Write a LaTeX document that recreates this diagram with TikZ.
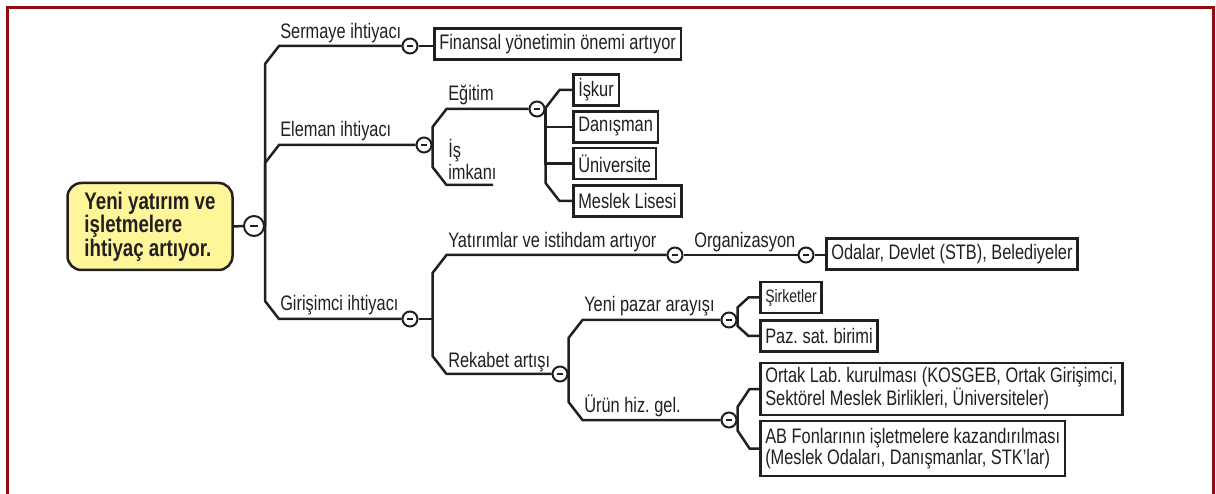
\documentclass[tikz,border=0pt]{standalone}
\usepackage{fontspec}
\setmainfont{Liberation Sans}[FakeStretch=0.78]
\usetikzlibrary{calc,positioning}
\definecolor{framered}{RGB}{145,10,20}
\definecolor{rootyellow}{RGB}{255,246,153}
\definecolor{ink}{RGB}{35,31,32}
\newcommand{\mapsize}{\fontsize{21pt}{21.5pt}\selectfont}
\frenchspacing

\begin{document}
\begin{tikzpicture}[x=1pt,y=-1pt,line width=2.5pt,ink]
	\tikzset{
		knob/.style={circle,draw,line width=2pt,fill=white,minimum size=15pt,inner sep=0pt,
			path picture={\draw[line width=2pt] ([xshift=-3pt]path picture bounding box.center) -- ([xshift=3pt]path picture bounding box.center);}},
		bigknob/.style={knob,minimum size=20pt,
			path picture={\draw[line width=2.5pt] ([xshift=-4pt]path picture bounding box.center) -- ([xshift=4pt]path picture bounding box.center);}},
		box/.style={draw,line width=2.5pt,fill=white,anchor=west,align=left,inner xsep=5pt,inner ysep=2pt,minimum height=31pt,font=\mapsize},
		lbl/.style={anchor=base west,inner sep=0pt,font=\mapsize},
		elbow/.style 2 args={to path={let \p1=(\tikztostart), \p2=(\tikztotarget) in
			-- (\x1,{\y2+#2*sign(\y1-\y2)}) -- ({\x1+#1},\y2) -- (\tikztotarget)}}
	}
	\useasboundingbox (0,0) rectangle (1216,494);
	\draw[framered,line width=3pt] (7,494) -- (7,8) -- (1213,8) -- (1213,494);
	
	% Root
	\node (root) at (150,226.5) [draw,fill=rootyellow,rounded corners=14pt,minimum width=165pt,minimum height=87pt,align=left,font=\fontsize{24pt}{23.5pt}\selectfont\bfseries] {Yeni yatırım ve\\işletmelere\\ihtiyaç artıyor.};
	\node[bigknob] (cR) at (254,226) {};
	
	% First level knobs and labels
	\node[knob] (cS) at (410,46) {};
	\node[knob] (cE) at (424,145) {};
	\node[knob] (cG) at (410,319) {};
	\node[lbl] (lS) at (279,39) {Sermaye ihtiyacı};
	\node[lbl] (lE) at (279,137) {Eleman ihtiyacı};
	\node[lbl] (lG) at (279,311) {Girişimci ihtiyacı};
	
	% Sermaye
	\node[box] (bFin) at (433,44) {Finansal yönetimin önemi artıyor};
	
	% Eleman
	\node[knob] (cEg) at (537,109) {};
	\node[lbl] (lEg) at (447,101) {Eğitim};
	\node[lbl] (lIs) at (447,158) {İş};
	\node[lbl] (lImk) at (447,180) {imkanı};
	\coordinate (isEnd) at (493,185);
	\foreach \name/\txt/\y in {bIsk/İşkur/90,bDan/Danışman/127,bUni/Üniversite/163.5,bMes/Meslek Lisesi/201}
		\node[box] (\name) at (572,\y) {\txt};
	
	% Girisimci
	\node[knob] (cY) at (675,255) {};
	\node[knob] (cO) at (806,255) {};
	\node[knob] (cRk) at (560,374) {};
	\node[knob] (cP) at (729,320) {};
	\node[knob] (cU) at (729,420) {};
	\node[lbl] (lY) at (447,248) {Yatırımlar ve istihdam artıyor};
	\node[lbl] (lO) at (693,248) {Organizasyon};
	\node[lbl] (lRk) at (447,368) {Rekabet artışı};
	\node[lbl] (lP) at (583,312) {Yeni pazar arayışı};
	\node[lbl] (lU) at (583,413) {Ürün hiz. gel.};
	\node[box] (bOda) at (825,254) {Odalar, Devlet (STB), Belediyeler};
	\node[box,font=\fontsize{18pt}{19pt}\selectfont] (bSir) at (759,297.5) {Şirketler};
	\node[box] (bPaz) at (759,336) {Paz. sat. birimi};
	\node[box,minimum height=52pt] (bOrt) at (759,389) {Ortak Lab. kurulması (KOSGEB, Ortak Girişimci,\\Sektörel Meslek Birlikleri, Üniversiteler)};
	\node[box,minimum height=55pt] (bAB) at (759,448.5) {AB Fonlarının işletmelere kazandırılması\\(Meslek Odaları, Danışmanlar, STK’lar)};
	
	% Connectors
	\draw (root.east) -- (cR.west);
	\draw (cR.east) to[elbow={14}{18}] (cS.west);
	\draw (cR.east) to[elbow={14}{18}] (cE.west);
	\draw (cR.east) to[elbow={14}{18}] (cG.west);
	\draw (cS.east) -- (cS.east -| bFin.west);
	
	\draw (cE.east) to[elbow={14}{18}] (cEg.west);
	\draw (cE.east) to[elbow={14}{18}] (isEnd);
	\draw (cEg.east) to[elbow={14}{18}] (bIsk.west);
	\draw (cEg.east) |- (bDan.west);
	\draw (cEg.east) |- (bUni.west);
	\draw (cEg.east) to[elbow={14}{18}] (bMes.west);
	
	\draw (cG.east) -- ++(14,0) coordinate (gFork);
	\draw (gFork) to[elbow={14}{18}] (cY.west);
	\draw (gFork) to[elbow={14}{18}] (cRk.west);
	\draw (cY.east) -- (cO.west);
	\draw (cO.east) -- (cO.east -| bOda.west);
	\draw (cRk.east) to[elbow={14}{18}] (cP.west);
	\draw (cRk.east) to[elbow={14}{18}] (cU.west);
	\draw (cP.east) to[elbow={11}{10}] (bSir.west);
	\draw (cP.east) to[elbow={11}{10}] (bPaz.west);
	\draw (cU.east) to[elbow={12}{18}] (bOrt.west);
	\draw (cU.east) to[elbow={12}{18}] (bAB.west);
\end{tikzpicture}
\end{document}
